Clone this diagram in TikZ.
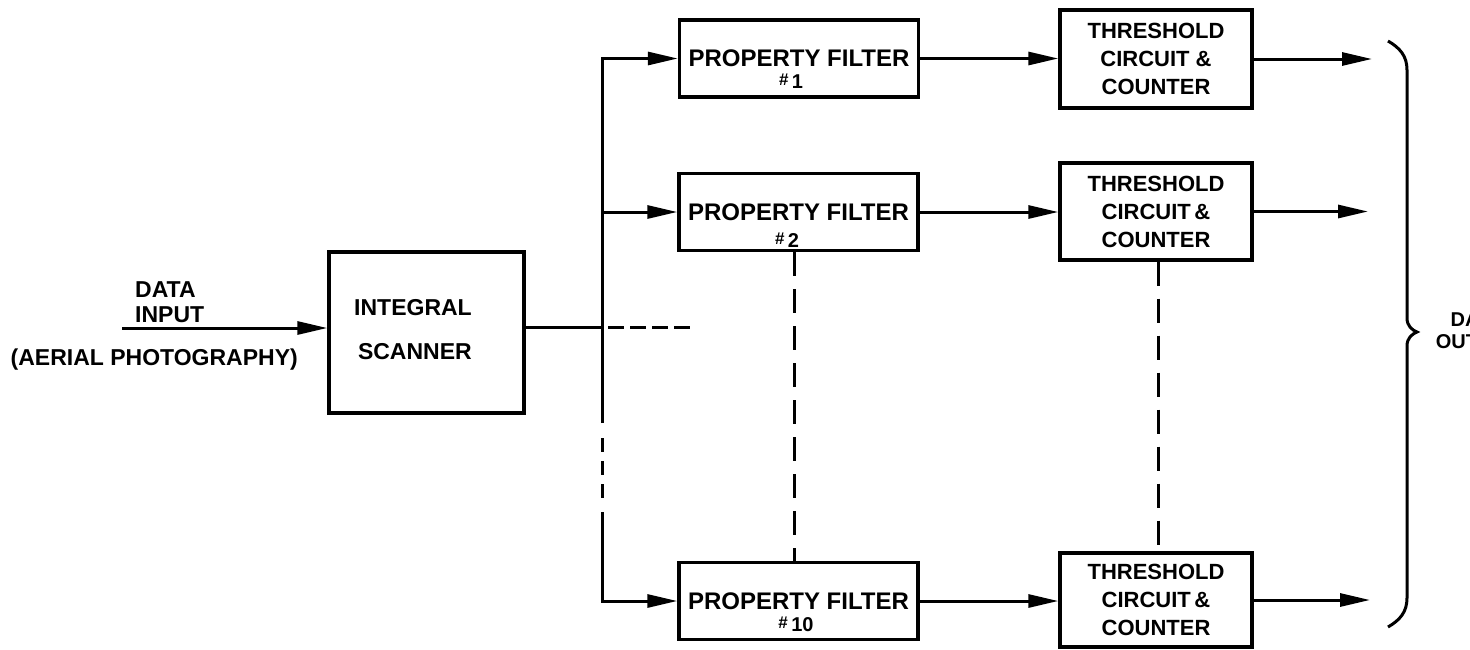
\documentclass[tikz,border=0pt]{standalone}
\usepackage{fontspec}
\setmainfont{Liberation Sans}
\usetikzlibrary{arrows.meta}
\begin{document}
\begin{tikzpicture}[x=1pt,y=-1pt,
  wire/.style={line width=3pt},
  arr/.style={wire,-{Triangle[length=30pt,width=13pt]}},
  blk/.style={draw,line width=3.4pt,inner sep=0pt},
  pfbox/.style={blk,minimum width=239pt,minimum height=77pt,font=\bfseries\fontsize{24pt}{28pt}\selectfont},
  tcbox/.style={blk,minimum width=192pt,align=center,font=\bfseries\fontsize{22pt}{28pt}\selectfont},
  lbl/.style={font=\bfseries\fontsize{23pt}{28pt}\selectfont,inner sep=0pt},
  numlbl/.style={font=\bfseries\fontsize{20pt}{20pt}\selectfont,inner sep=0pt},
  vdash/.style={wire,dash pattern=on 24pt off 13pt},
]
\useasboundingbox (0,0) rectangle (1470,649);
\clip (0,0) rectangle (1470,649);

% scanner
\node[blk,minimum width=195pt,minimum height=161pt] (scan) at (426.5,332.5) {};
\node[lbl,align=right] (scantxt) at (413,330) {INTEGRAL\\[16pt]SCANNER};

% input labels
\node[lbl,align=left,anchor=west] (din) at (135,302) {DATA\\[-3pt]INPUT};
\node[lbl,anchor=east] (aer) at (298,360) {(AERIAL PHOTOGRAPHY)};

% property filters
\node[pfbox] (pf1) at (799,58.5) {PROPERTY FILTER};
\node[pfbox] (pf2) at (798.5,212) {PROPERTY FILTER};
\node[pfbox] (pf10) at (798.5,601) {PROPERTY FILTER};
\node[numlbl] (n1) at (791,81) {\raisebox{3pt}{\fontsize{17pt}{17pt}\selectfont\#}\,1};
\node[numlbl] (n2) at (787,240) {\raisebox{3pt}{\fontsize{17pt}{17pt}\selectfont\#}\,2};
\node[numlbl] (n10) at (796,624) {\raisebox{3pt}{\fontsize{17pt}{17pt}\selectfont\#}\,10};

% threshold circuits
\node[tcbox,minimum height=98pt] (tc1) at (1156,59) {THRESHOLD\\CIRCUIT \&\\COUNTER};
\node[tcbox,minimum height=97pt] (tc2) at (1156,211.5) {THRESHOLD\\CIRCUIT\,\&\\COUNTER};
\node[tcbox,minimum height=94pt] (tc10) at (1156,600) {THRESHOLD\\CIRCUIT\,\&\\COUNTER};

% output label (cut off at the right edge, as in the reference)
\node[font=\bfseries\fontsize{20pt}{22pt}\selectfont,align=center,inner sep=0pt] (dout) at (1477,331) {DATA\\OUTPUT};

% coordinates
\coordinate (in) at (122,328);
\coordinate (bus) at (602,327);
\coordinate (bt) at (602,423);
\coordinate (bd1) at (602,438);
\coordinate (bd2) at (602,500);
\coordinate (bb) at (602,512);
\coordinate (dh1) at (608,327);
\coordinate (dh2) at (690,327);
\coordinate (o1) at (1372,59);
\coordinate (o2) at (1368,211.5);
\coordinate (o10) at (1370,600);

% input and bus
\draw[arr] (in) -- (in -| scan.west);
\draw[wire] (scan.east |- bus) -- (bus);
\draw[wire,dash pattern=on 16pt off 6pt] (dh1) -- (dh2);
\draw[arr] (bt) |- (pf1.west);
\draw[arr] (bus |- pf2.west) -- (pf2.west);
\draw[wire,dash pattern=on 14pt off 9pt] (bd1) -- (bd2);
\draw[arr] (bb) |- (pf10.west);

% filter to threshold
\draw[arr] (pf1.east) -- (pf1.east -| tc1.west);
\draw[arr] (pf2.east) -- (pf2.east -| tc2.west);
\draw[arr] (pf10.east) -- (pf10.east -| tc10.west);

% dashed continuations
\draw[vdash] ([xshift=-4pt]pf2.south) -- ([xshift=-4pt]pf10.north);
\draw[vdash] ([xshift=2pt]tc2.south) -- ([xshift=2pt]tc10.north);

% outputs
\draw[arr] (tc1.east) -- (o1);
\draw[arr] (tc2.east) -- (o2);
\draw[arr] (tc10.east) -- (o10);

% brace
\draw[line width=3pt] (1388,41) .. controls (1400,48) and (1407,56) .. (1407,70)
  -- (1407,318) .. controls (1407,326) and (1412,330) .. (1417,332)
  .. controls (1412,334) and (1407,338) .. (1407,346)
  -- (1407,598) .. controls (1407,612) and (1400,620) .. (1388,627);
\end{tikzpicture}
\end{document}
